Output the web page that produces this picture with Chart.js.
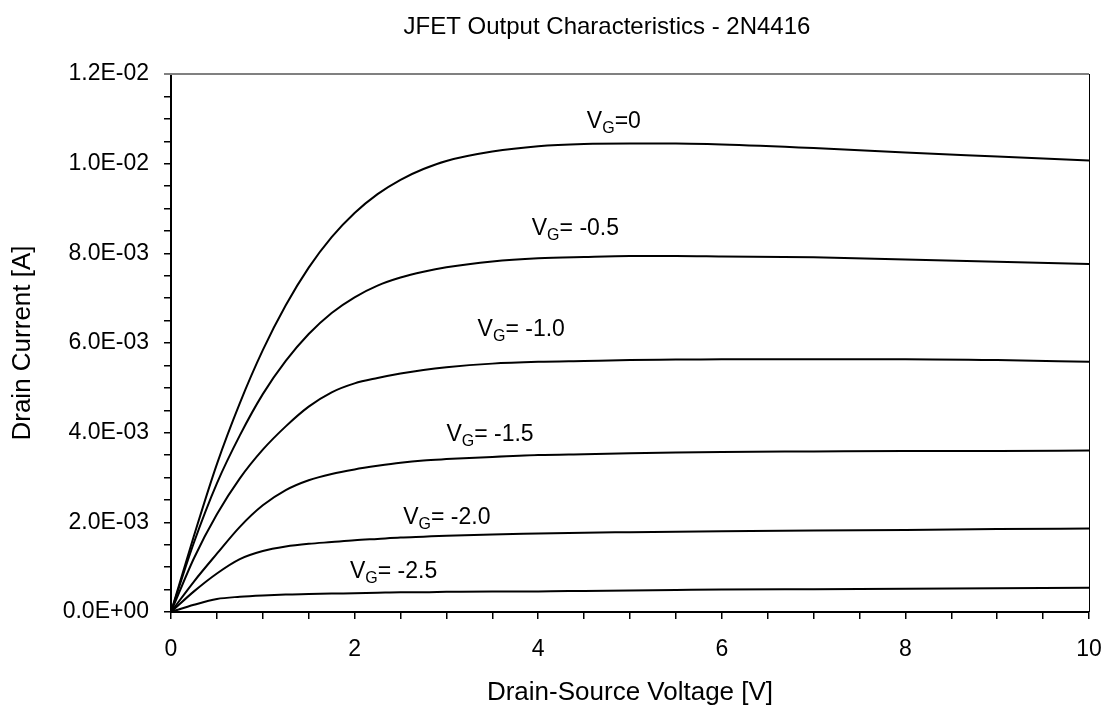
<!DOCTYPE html>
<html>
<head>
<meta charset="utf-8">
<script src="https://cdn.jsdelivr.net/npm/chart.js@4.4.1/dist/chart.umd.min.js"></script>
<style>
  html, body { margin: 0; padding: 0; background: #fff; }
  #wrap { width: 1111px; height: 713px; position: relative; }
</style>
</head>
<body>
<div id="wrap"><canvas id="chart"></canvas></div>
<script>
/* **** DATA **** */

// drain-source voltage [V]
const vds = [0, 0.25, 0.5, 0.75, 1, 1.25, 1.5, 1.75, 2, 2.25, 2.5, 2.75, 3, 3.5, 4, 4.5, 5, 5.5, 6, 7, 8, 9, 10];

// drain current in mA, one list per gate voltage
const idVg0   = [0, 1.70, 3.30, 4.66, 5.84, 6.84, 7.68, 8.36, 8.90, 9.32, 9.64, 9.88, 10.06, 10.27, 10.39, 10.44, 10.45, 10.45, 10.43, 10.35, 10.25, 10.16, 10.07];
const idVgM05 = [0, 1.55, 2.87, 3.94, 4.86, 5.60, 6.20, 6.67, 7.02, 7.28, 7.46, 7.59, 7.69, 7.82, 7.89, 7.92, 7.94, 7.94, 7.93, 7.91, 7.86, 7.81, 7.76];
const idVgM10 = [0, 1.20, 2.18, 2.98, 3.62, 4.14, 4.58, 4.90, 5.10, 5.22, 5.32, 5.40, 5.46, 5.54, 5.58, 5.60, 5.62, 5.63, 5.64, 5.64, 5.64, 5.62, 5.58];
const idVgM15 = [0, 0.68, 1.30, 1.90, 2.38, 2.72, 2.94, 3.08, 3.18, 3.26, 3.33, 3.38, 3.41, 3.46, 3.50, 3.52, 3.54, 3.56, 3.57, 3.58, 3.59, 3.59, 3.60];
const idVgM20 = [0, 0.46, 0.86, 1.18, 1.36, 1.46, 1.52, 1.56, 1.60, 1.63, 1.66, 1.68, 1.70, 1.73, 1.75, 1.77, 1.78, 1.79, 1.80, 1.82, 1.83, 1.85, 1.86];
const idVgM25 = [0, 0.16, 0.29, 0.34, 0.37, 0.39, 0.40, 0.41, 0.42, 0.43, 0.44, 0.44, 0.45, 0.46, 0.46, 0.47, 0.48, 0.49, 0.50, 0.51, 0.52, 0.53, 0.54];

const gateLabels = ['0', ' -0.5', ' -1.0', ' -1.5', ' -2.0', ' -2.5'];
const curves = [idVg0, idVgM05, idVgM10, idVgM15, idVgM20, idVgM25];

// where each V_G label sits (volts, amps) - left end of text baseline
const labelAt = [[4.53, 0.01080], [3.93, 0.00841], [3.34, 0.00616], [3.00, 0.00381], [2.53, 0.00196], [1.95, 0.00076]];

const FONT = "Arial, 'Liberation Sans', sans-serif";

/* **** HELPERS **** */

function sciLabel(v) {
  if (Math.abs(v) < 1e-12) return '0.0E+00';
  let [m, e] = v.toExponential(1).toUpperCase().split('E');
  let sign = e[0] === '-' ? '-' : '+';
  let digits = e.replace(/[+-]/, '').padStart(2, '0');
  return m + 'E' + sign + digits;
}

function isMultiple(v, step) {
  return Math.abs(Math.round(v / step) * step - v) < step * 1e-6;
}

// frame lines, title and the V_G annotations
const decorations = {
  id: 'decorations',
  afterDraw(chart) {
    const {ctx, chartArea: a, scales: {x, y}} = chart;
    ctx.save();
    // top border (gray) and right border (black)
    ctx.strokeStyle = '#808080';
    ctx.lineWidth = 2;
    ctx.beginPath();
    ctx.moveTo(a.left - 7, a.top);
    ctx.lineTo(a.right, a.top);
    ctx.stroke();
    ctx.strokeStyle = '#000';
    ctx.lineWidth = 1;
    ctx.beginPath();
    ctx.moveTo(a.right + 0.5, a.top);
    ctx.lineTo(a.right + 0.5, a.bottom);
    ctx.stroke();

    // title
    ctx.fillStyle = '#000';
    ctx.font = '24px ' + FONT;
    ctx.textAlign = 'center';
    ctx.textBaseline = 'alphabetic';
    ctx.fillText('JFET Output Characteristics - 2N4416', 607, 34);

    // curve labels
    ctx.textAlign = 'left';
    labelAt.forEach(([v, i], k) => {
      let px = x.getPixelForValue(v);
      let py = y.getPixelForValue(i);
      ctx.font = '23px ' + FONT;
      ctx.fillText('V', px, py);
      px += ctx.measureText('V').width;
      ctx.font = '16px ' + FONT;
      ctx.fillText('G', px, py + 5);
      px += ctx.measureText('G').width;
      ctx.font = '23px ' + FONT;
      ctx.fillText('=' + gateLabels[k], px, py);
    });
    ctx.restore();
  }
};

/* **** MAIN **** */

const datasets = curves.map((c, k) => ({
  label: 'VG=' + gateLabels[k].trim(),
  data: vds.map((v, j) => ({x: v, y: c[j] / 1000})),
  borderColor: '#000',
  borderWidth: 2,
  pointRadius: 0,
  fill: false,
  cubicInterpolationMode: 'monotone'
}));

const canvas = document.getElementById('chart');
let chart = new Chart(canvas, {
  type: 'line',
  data: { datasets },
  options: {
    responsive: true,
    maintainAspectRatio: false,
    animation: false,
    layout: { padding: { left: 0, right: 22, top: 74, bottom: 0 } },
    plugins: {
      legend: { display: false },
      title: { display: false },
      tooltip: { enabled: false }
    },
    scales: {
      x: {
        type: 'linear',
        min: 0,
        max: 10,
        afterFit: s => { s.height = 101; },
        border: { color: '#000', width: 2 },
        grid: { drawOnChartArea: false, color: '#000', tickLength: 7, lineWidth: 1.5 },
        ticks: {
          stepSize: 0.5,
          autoSkip: false,
          maxRotation: 0,
          padding: 8,
          color: '#000',
          font: { family: FONT, size: 23, lineHeight: 2 },
          callback: v => isMultiple(v, 2) ? String(Math.round(v)) : ''
        },
        title: {
          display: true,
          text: 'Drain-Source Voltage [V]',
          color: '#000',
          font: { family: FONT, size: 26 },
          padding: { top: 0, bottom: 5 }
        }
      },
      y: {
        min: 0,
        max: 0.012,
        afterFit: s => { s.width = 171; },
        border: { color: '#000', width: 2 },
        grid: { drawOnChartArea: false, color: '#000', tickLength: 7, lineWidth: 1.5 },
        ticks: {
          stepSize: 0.0005,
          autoSkip: false,
          padding: 15,
          color: '#000',
          font: { family: FONT, size: 23 },
          callback: v => isMultiple(v, 0.002) ? sciLabel(v) : ''
        },
        title: {
          display: true,
          text: 'Drain Current [A]',
          color: '#000',
          font: { family: FONT, size: 26 },
          padding: { top: 7, bottom: 0 }
        }
      }
    }
  },
  plugins: [decorations]
});
</script>
</body>
</html>
